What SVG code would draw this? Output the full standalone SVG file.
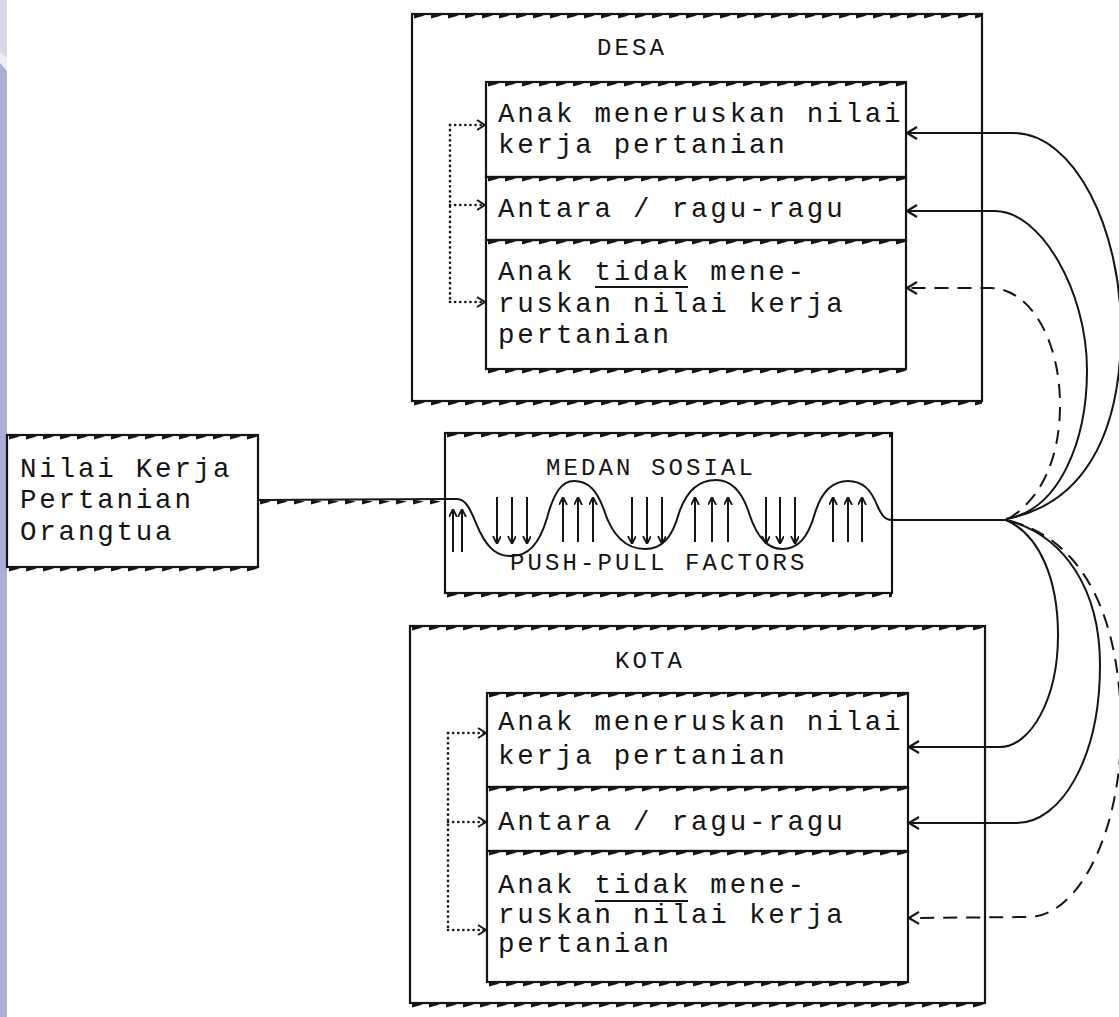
<svg xmlns="http://www.w3.org/2000/svg" width="1119" height="1017" viewBox="0 0 1119 1017">
<defs>
<style>
.bx{fill:none;stroke:#151515;stroke-width:2.2}
.t{font-family:"Liberation Mono","Courier New",monospace;font-size:27.5px;letter-spacing:2.8px;fill:#151515}
.lb{font-family:"Liberation Mono","Courier New",monospace;font-size:24px;letter-spacing:3.1px;fill:#151515}
.ln{fill:none;stroke:#151515;stroke-width:2}
.dash{stroke-dasharray:14 9}
.dot{fill:none;stroke:#151515;stroke-width:2.6;stroke-dasharray:0.1 5;stroke-linecap:round}
.ul{stroke:#151515;stroke-width:1.8}
.wa{fill:none;stroke:#151515;stroke-width:2}
</style>
<pattern id="tk" width="17" height="8" patternUnits="userSpaceOnUse"><path d="M2 2.5 L13 4.5 L2 7.5 Z" fill="#151515"/></pattern>
<marker id="ah" viewBox="0 0 12 14" refX="11" refY="7" markerWidth="12" markerHeight="14" orient="auto" markerUnits="userSpaceOnUse"><path d="M1 1 L11 7 L1 13" fill="none" stroke="#151515" stroke-width="2.2"/></marker>
<marker id="dh" viewBox="0 0 10 12" refX="9" refY="6" markerWidth="10" markerHeight="12" orient="auto" markerUnits="userSpaceOnUse"><path d="M1 1 L9 6 L1 11" fill="none" stroke="#151515" stroke-width="2"/></marker>
<marker id="wh" viewBox="0 0 8 10" refX="7" refY="4" markerWidth="8" markerHeight="10" orient="auto" markerUnits="userSpaceOnUse"><path d="M0 0 L8 4 L0 8" fill="none" stroke="#151515" stroke-width="1.8"/></marker>
</defs>
<rect width="1119" height="1017" fill="#ffffff"/>
<g id="edge-band">
<rect x="0" y="0" width="7" height="1017" fill="#a8b0d5"/>
<polygon points="0,0 7,0 7,57 0,52" fill="#d8d8ec"/>
<polygon points="0,52 7,57 7,71 0,63" fill="#eeeef7"/>
</g>
<g id="desa">
<rect class="bx" x="412" y="14" width="570" height="387"/>
<rect transform="translate(412,11)" width="570" height="8" fill="url(#tk)"/>
<rect transform="translate(412,398)" width="570" height="8" fill="url(#tk)"/>
<text class="lb" x="597" y="55">DESA</text>
</g>
<g id="desa-b1">
<rect class="bx" x="486" y="82" width="420" height="95"/>
<rect transform="translate(486,79)" width="420" height="8" fill="url(#tk)"/>
<text class="t" x="498" y="122">Anak meneruskan nilai</text>
<text class="t" x="498" y="153">kerja pertanian</text>
</g>
<g id="desa-b2">
<rect class="bx" x="486" y="177" width="420" height="63"/>
<rect transform="translate(486,174)" width="420" height="8" fill="url(#tk)"/>
<text class="t" x="498" y="217">Antara / ragu-ragu</text>
</g>
<g id="desa-b3">
<rect class="bx" x="486" y="240" width="420" height="129"/>
<rect transform="translate(486,237)" width="420" height="8" fill="url(#tk)"/>
<rect transform="translate(486,366)" width="420" height="8" fill="url(#tk)"/>
<text class="t" x="498" y="280">Anak tidak mene-</text>
<line class="ul" x1="595" y1="287" x2="688" y2="287"/>
<text class="t" x="498" y="312">ruskan nilai kerja</text>
<text class="t" x="498" y="343">pertanian</text>
</g>
<g id="nilai">
<rect class="bx" x="7" y="435" width="251" height="132"/>
<rect transform="translate(7,432)" width="251" height="8" fill="url(#tk)"/>
<rect transform="translate(7,564)" width="251" height="8" fill="url(#tk)"/>
<text class="t" x="20" y="477">Nilai Kerja</text>
<text class="t" x="20" y="508">Pertanian</text>
<text class="t" x="20" y="540">Orangtua</text>
</g>
<g id="medan">
<rect class="bx" x="445" y="433" width="447" height="160"/>
<rect transform="translate(445,430)" width="447" height="8" fill="url(#tk)"/>
<rect transform="translate(445,590)" width="447" height="8" fill="url(#tk)"/>
<text class="lb" x="546" y="475">MEDAN SOSIAL</text>
<text class="lb" x="510" y="570">PUSH-PULL FACTORS</text>
<path class="wa" d="M445 499 L457 499 C468 499 472 515 480 532 C489 550 498 556 511 556 C528 556 539 545 547 518 C554 492 562 481 574 481 C588 481 597 490 604 510 C613 538 627 549 645 549 C662 549 672 538 679 513 C687 489 700 480 716 480 C731 480 742 491 749 513 C757 538 768 549 782 549 C798 549 808 538 815 513 C822 490 833 481 848 481 C863 481 871 490 877 505 C882 516 885 520 892 520"/>
<g class="wa" marker-end="url(#wh)">
<path d="M453 552 V510"/><path d="M462 552 V510"/>
<path d="M497 497 V543"/><path d="M512 497 V543"/><path d="M527 497 V543"/>
<path d="M563 542 V498"/><path d="M578 542 V498"/><path d="M593 542 V498"/>
<path d="M632 497 V543"/><path d="M647 497 V543"/><path d="M662 497 V543"/>
<path d="M695 542 V498"/><path d="M712 542 V498"/><path d="M728 542 V498"/>
<path d="M766 497 V543"/><path d="M780 497 V543"/><path d="M795 497 V543"/>
<path d="M833 542 V498"/><path d="M848 542 V498"/><path d="M862 542 V498"/>
</g>
</g>
<g id="kota">
<rect class="bx" x="410" y="626" width="575" height="377"/>
<rect transform="translate(410,623)" width="575" height="8" fill="url(#tk)"/>
<rect transform="translate(410,1000)" width="575" height="8" fill="url(#tk)"/>
<text class="lb" x="615" y="668">KOTA</text>
</g>
<g id="kota-b1">
<rect class="bx" x="487" y="693" width="421" height="94"/>
<rect transform="translate(487,690)" width="421" height="8" fill="url(#tk)"/>
<text class="t" x="498" y="730">Anak meneruskan nilai</text>
<text class="t" x="498" y="764">kerja pertanian</text>
</g>
<g id="kota-b2">
<rect class="bx" x="487" y="787" width="421" height="64"/>
<rect transform="translate(487,784)" width="421" height="8" fill="url(#tk)"/>
<text class="t" x="498" y="830">Antara / ragu-ragu</text>
</g>
<g id="kota-b3">
<rect class="bx" x="487" y="851" width="421" height="131"/>
<rect transform="translate(487,848)" width="421" height="8" fill="url(#tk)"/>
<rect transform="translate(487,979)" width="421" height="8" fill="url(#tk)"/>
<text class="t" x="498" y="893">Anak tidak mene-</text>
<line class="ul" x1="595" y1="901" x2="688" y2="901"/>
<text class="t" x="498" y="923">ruskan nilai kerja</text>
<text class="t" x="498" y="952">pertanian</text>
</g>
<g id="connectors">
<path class="ln" d="M258 500 L445 499"/>
<rect transform="translate(258,497)" width="187" height="8" fill="url(#tk)"/>
<path class="ln" d="M892 520 L1006 520"/>
<path class="ln" marker-end="url(#ah)" d="M1006 519 C1080 505 1121 440 1121 330 C1121 230 1075 133 1013 133 L907 133"/>
<path class="ln" marker-end="url(#ah)" d="M1006 519 C1060 510 1087 440 1087 370 C1087 290 1040 211 995 211 L907 211"/>
<path class="ln dash" marker-end="url(#ah)" d="M1008 519 C1040 500 1060 460 1060 405 C1060 340 1030 288 990 288 L907 288"/>
<path class="ln" marker-end="url(#ah)" d="M1006 520 C1040 535 1058 580 1058 635 C1058 700 1030 747 1000 747 L909 747"/>
<path class="ln" marker-end="url(#ah)" d="M1006 520 C1065 535 1100 590 1100 665 C1100 760 1060 823 1017 823 L909 823"/>
<path class="ln dash" marker-end="url(#ah)" d="M1010 521 C1085 540 1121 620 1121 730 C1121 830 1080 915 1030 917 L909 918"/>
<path class="dot" d="M450 125 V302"/>
<path class="dot" marker-end="url(#dh)" d="M450 125 H485"/>
<path class="dot" marker-end="url(#dh)" d="M450 205 H485"/>
<path class="dot" marker-end="url(#dh)" d="M450 302 H485"/>
<path class="dot" d="M448 733 V930"/>
<path class="dot" marker-end="url(#dh)" d="M448 733 H486"/>
<path class="dot" marker-end="url(#dh)" d="M448 822 H486"/>
<path class="dot" marker-end="url(#dh)" d="M448 930 H486"/>
</g>
</svg>
